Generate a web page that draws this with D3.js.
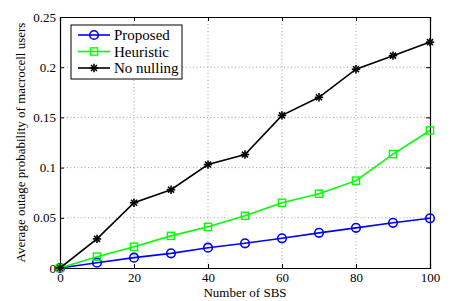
<!DOCTYPE html>
<html><head><meta charset="utf-8">
<script src="https://cdnjs.cloudflare.com/ajax/libs/d3/7.8.5/d3.min.js"></script>
<style>body{margin:0;background:#fff}svg{display:block}svg text{font-family:"Liberation Serif","DejaVu Serif","Times New Roman",serif !important}</style>
</head><body>
<script>
const sbs = [0,10,20,30,40,50,60,70,80,90,100];
const proposed = [0,0.0053,0.0103,0.0146,0.0202,0.0246,0.0296,0.035,0.040,0.045,0.0495];
const heuristic = [0,0.0113,0.0212,0.032,0.041,0.052,0.065,0.074,0.087,0.1135,0.137];
const noNulling = [0,0.029,0.065,0.078,0.103,0.113,0.152,0.170,0.198,0.2115,0.225];
const xTicks = [0,20,40,60,80,100];
const yTicks = [0,0.05,0.1,0.15,0.2,0.25];
const yTickLabels = ["0","0.05","0.1","0.15","0.2","0.25"];
const seriesNames = ["Proposed","Heuristic","No nulling"];
const seriesColors = ["#0000ff","#00ff00","#000000"];
const FONT='"Liberation Serif","DejaVu Serif",serif';

const W=455,H=301;
const svg=d3.select("body").append("svg").attr("width",W).attr("height",H);
const L=60,R=430,T=17,B=268;
const x=d3.scaleLinear().domain([0,100]).range([L,R]);
const y=d3.scaleLinear().domain([0,0.25]).range([B,T]);

// grid
const g=svg.append("g");
xTicks.forEach(t=>{ if(t>0&&t<100) g.append("line").attr("x1",x(t)).attr("x2",x(t)).attr("y1",T).attr("y2",B).attr("stroke","#888").attr("stroke-width",0.8).attr("stroke-dasharray","1,2.5");});
yTicks.forEach(t=>{ if(t>0&&t<0.25) g.append("line").attr("x1",L).attr("x2",R).attr("y1",y(t)).attr("y2",y(t)).attr("stroke","#888").attr("stroke-width",0.8).attr("stroke-dasharray","1,2.5");});

// axes
const xa=svg.append("g").attr("transform",`translate(0,${B})`).call(d3.axisBottom(x).tickValues(xTicks).tickSize(-4).tickPadding(5).tickFormat(d3.format("d")));
const xt=svg.append("g").attr("transform",`translate(0,${T})`).call(d3.axisTop(x).tickValues(xTicks).tickSize(-4).tickFormat(""));
const ya=svg.append("g").attr("transform",`translate(${L},0)`).call(d3.axisLeft(y).tickValues(yTicks).tickSize(-4).tickPadding(4).tickFormat((d,i)=>yTickLabels[i]));
const yr=svg.append("g").attr("transform",`translate(${R},0)`).call(d3.axisRight(y).tickValues(yTicks).tickSize(-4).tickFormat(""));
[xa,xt,ya,yr].forEach(a=>{a.attr("font-family",FONT).attr("font-size",13);a.select(".domain").attr("stroke","#000").attr("stroke-width",1.2);a.selectAll(".tick line").attr("stroke","#000");a.selectAll("text").attr("fill","#000").style("font-family",FONT).style("font-size","13px");});

// lines
const data=[proposed,heuristic,noNulling];
const line=d3.line().x((d,i)=>x(sbs[i])).y(d=>y(d));
function marker(sel,k,cx,cy){
  const c=seriesColors[k];
  if(k===0) sel.append("circle").attr("cx",cx).attr("cy",cy).attr("r",4.3).attr("fill","none").attr("stroke",c).attr("stroke-width",1.6);
  else if(k===1) sel.append("rect").attr("x",cx-3.6).attr("y",cy-3.6).attr("width",7.2).attr("height",7.2).attr("fill","none").attr("stroke",c).attr("stroke-width",1.4);
  else {
    const s=4.2;
    for(let a=0;a<4;a++){const ang=a*Math.PI/4; sel.append("line").attr("x1",cx-s*Math.cos(ang)).attr("y1",cy-s*Math.sin(ang)).attr("x2",cx+s*Math.cos(ang)).attr("y2",cy+s*Math.sin(ang)).attr("stroke",c).attr("stroke-width",1.6);}
  }
}
data.forEach((vals,k)=>{
  svg.append("path").attr("d",line(vals)).attr("fill","none").attr("stroke",seriesColors[k]).attr("stroke-width",1.6);
  const mg=svg.append("g");
  vals.forEach((v,i)=>marker(mg,k,x(sbs[i]),y(v)));
});

// legend
const lg=svg.append("g");
lg.append("rect").attr("x",71).attr("y",25).attr("width",111).attr("height",54).attr("fill","#fff").attr("stroke","#000").attr("stroke-width",1);
seriesNames.forEach((n,k)=>{
  const yy=35+k*16.5;
  lg.append("line").attr("x1",78).attr("x2",110).attr("y1",yy).attr("y2",yy).attr("stroke",seriesColors[k]).attr("stroke-width",1.6);
  marker(lg,k,94,yy);
  lg.append("text").attr("x",114).attr("y",yy+5).style("font-family",FONT).style("font-size","15px").text(n);
});

// labels
svg.append("text").attr("x",(L+R)/2).attr("y",297).attr("text-anchor","middle").style("font-family",FONT).style("font-size","13px").text("Number of SBS");
svg.append("text").attr("transform",`translate(25,${(T+B)/2}) rotate(-90)`).attr("text-anchor","middle").style("font-family",FONT).style("font-size","13px").text("Average outage probability of macrocell users");
</script>
</body></html>
